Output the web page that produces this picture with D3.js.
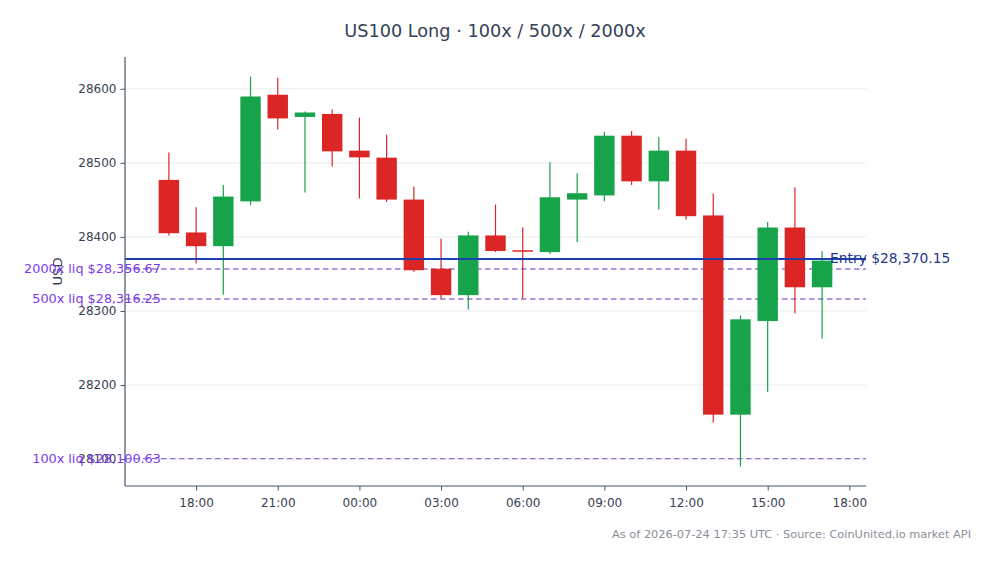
<!DOCTYPE html>
<html>
<head>
<meta charset="utf-8">
<script src="https://cdn.jsdelivr.net/npm/d3@7"></script>
<style>
  body { margin: 0; background: #fff; }
  svg { display: block; font-family: "DejaVu Sans", sans-serif; }
</style>
</head>
<body>
<svg id="chart" width="994" height="564"></svg>
<script>
// hourly candles, 2026-07-23 17:00 UTC -> 2026-07-24 17:00 UTC
var times = [
  "2026-07-23T17:00Z","2026-07-23T18:00Z","2026-07-23T19:00Z","2026-07-23T20:00Z",
  "2026-07-23T21:00Z","2026-07-23T22:00Z","2026-07-23T23:00Z","2026-07-24T00:00Z",
  "2026-07-24T01:00Z","2026-07-24T02:00Z","2026-07-24T03:00Z","2026-07-24T04:00Z",
  "2026-07-24T05:00Z","2026-07-24T06:00Z","2026-07-24T07:00Z","2026-07-24T08:00Z",
  "2026-07-24T09:00Z","2026-07-24T10:00Z","2026-07-24T11:00Z","2026-07-24T12:00Z",
  "2026-07-24T13:00Z","2026-07-24T14:00Z","2026-07-24T15:00Z","2026-07-24T16:00Z",
  "2026-07-24T17:00Z"
];
var opens  = [28477, 28406, 28387.5, 28448, 28592, 28562, 28566, 28516.5, 28507, 28450.4, 28357, 28321.4, 28402, 28382, 28379.5, 28450.4, 28456, 28536.7, 28475, 28516.5, 28429, 28160, 28286.4, 28412.7, 28332];
var highs  = [28514, 28440, 28470, 28616.6, 28615, 28569.4, 28572, 28561, 28538, 28468, 28397.4, 28407, 28443.7, 28413, 28500.7, 28486, 28542, 28543, 28535, 28532.6, 28458.5, 28294, 28420, 28467, 28380.7];
var lows   = [28402, 28364, 28322, 28443, 28545, 28460, 28495, 28452, 28447, 28353, 28317, 28302, 28379.5, 28317, 28377, 28393, 28448, 28470, 28437, 28423.5, 28149.5, 28090, 28190.7, 28297, 28263];
var closes = [28405, 28387.5, 28454.5, 28589.6, 28560, 28568, 28515.5, 28507.4, 28450.4, 28355, 28321.4, 28402, 28381, 28380, 28453.5, 28459, 28536.7, 28475, 28516.5, 28428, 28160, 28288.7, 28412.7, 28332, 28368];

var entryPrice = 28370.15;
var liqLevels = [2000, 500, 100];
var liqPrices = [28356.67, 28316.25, 28100.63];

var titleText = "US100 Long \u00b7 100x / 500x / 2000x";
var footerText = "As of 2026-07-24 17:35 UTC \u00b7 Source: CoinUnited.io market API";

var W = 994, H = 564;
var margin = {top: 57, right: 128, bottom: 78, left: 125};
var HOUR = 3600 * 1000;

var candles = times.map(function(t, i) {
  return {t: new Date(t), o: opens[i], h: highs[i], l: lows[i], c: closes[i]};
});

var svg = d3.select("#chart");

// 5% margins around the data
var t0 = +candles[0].t - 0.375 * HOUR, t1 = +candles[candles.length - 1].t + 0.375 * HOUR;
var tpad = (t1 - t0) * 0.05;
var x = d3.scaleUtc()
  .domain([new Date(t0 - tpad), new Date(t1 + tpad)])
  .range([margin.left, W - margin.right]);

var lo = d3.min(lows), hi = d3.max(highs);
var ypad = (hi - lo) * 0.05;
var y = d3.scaleLinear()
  .domain([lo - ypad, hi + ypad])
  .range([H - margin.bottom, margin.top]);

var yTicks = [28100, 28200, 28300, 28400, 28500, 28600];

// grid
svg.append("g")
  .selectAll("line")
  .data(yTicks)
  .enter().append("line")
  .attr("x1", margin.left).attr("x2", W - margin.right)
  .attr("y1", d => y(d)).attr("y2", d => y(d))
  .attr("stroke", "#e5e7eb").attr("stroke-width", 0.8);

// liquidation lines
svg.append("g")
  .selectAll("line")
  .data(liqPrices)
  .enter().append("line")
  .attr("x1", margin.left).attr("x2", W - margin.right)
  .attr("y1", d => y(d)).attr("y2", d => y(d))
  .attr("stroke", "#9a72d8")
  .attr("stroke-width", 1.4)
  .attr("stroke-dasharray", "5.5,3.5");

// candles
var bw = x(new Date(+candles[0].t + 0.75 * HOUR)) - x(candles[0].t);
var cg = svg.append("g")
  .selectAll("g")
  .data(candles)
  .enter().append("g");
cg.append("line")
  .attr("x1", d => x(d.t)).attr("x2", d => x(d.t))
  .attr("y1", d => y(d.h)).attr("y2", d => y(d.l))
  .attr("stroke", d => d.c >= d.o ? "#16a34a" : "#dc2626")
  .attr("stroke-width", 1.2);
cg.append("rect")
  .attr("x", d => x(d.t) - bw / 2)
  .attr("width", bw)
  .attr("y", d => y(Math.max(d.o, d.c)))
  .attr("height", d => Math.max(1.5, Math.abs(y(d.o) - y(d.c))))
  .attr("fill", d => d.c >= d.o ? "#16a34a" : "#dc2626");

// entry line
svg.append("line")
  .attr("x1", margin.left).attr("x2", W - margin.right)
  .attr("y1", y(entryPrice)).attr("y2", y(entryPrice))
  .attr("stroke", "#1e40af").attr("stroke-width", 2);

// axes
var yAxis = svg.append("g")
  .attr("transform", "translate(" + margin.left + ",0)")
  .call(d3.axisLeft(y).tickValues(yTicks).tickFormat(d3.format("d")).tickSize(4.5).tickPadding(4));
var xAxis = svg.append("g")
  .attr("transform", "translate(0," + (H - margin.bottom) + ")")
  .call(d3.axisBottom(x).ticks(d3.utcHour.every(3)).tickFormat(d3.utcFormat("%H:%M")).tickSize(4.5).tickPadding(8));
[yAxis, xAxis].forEach(function(a) {
  a.select(".domain").attr("stroke", "#475569").attr("stroke-width", 1.2);
  a.selectAll(".tick line").attr("stroke", "#475569").attr("stroke-width", 1);
  a.selectAll(".tick text").attr("fill", "#374151")
    .style("font-family", "DejaVu Sans").style("font-size", "12px");
});
yAxis.select(".domain").attr("d", "M0," + margin.top + "V" + (H - margin.bottom));
xAxis.select(".domain").attr("d", "M" + margin.left + ",0H" + (W - margin.right));

svg.append("text")
  .attr("transform", "translate(62," + ((margin.top + H - margin.bottom) / 2) + ") rotate(-90)")
  .attr("text-anchor", "middle")
  .attr("fill", "#374151")
  .style("font-size", "13px")
  .text("USD");

// labels
var xFirst = x(candles[0].t), xLast = x(candles[candles.length - 1].t);
svg.append("g")
  .selectAll("text")
  .data(liqPrices)
  .enter().append("text")
  .attr("x", xFirst - 8)
  .attr("y", d => y(d))
  .attr("dy", "0.35em")
  .attr("text-anchor", "end")
  .attr("fill", "#7c3aed")
  .style("font-size", "12.8px")
  .text((d, i) => liqLevels[i] + "x liq $" + d3.format(",.2f")(d));

svg.append("text")
  .attr("x", xLast + 8)
  .attr("y", y(entryPrice))
  .attr("dy", "0.3em")
  .attr("fill", "#1e3a8a")
  .style("font-size", "13.8px")
  .text("Entry $" + d3.format(",.2f")(entryPrice));

svg.append("text")
  .attr("x", W / 2 - 2).attr("y", 37)
  .attr("text-anchor", "middle")
  .attr("fill", "#334155")
  .style("font-size", "17.7px")
  .text(titleText);

svg.append("text")
  .attr("x", 971).attr("y", 538)
  .attr("text-anchor", "end")
  .attr("fill", "#8a8f98")
  .style("font-size", "11.35px")
  .text(footerText);
</script>
</body>
</html>
